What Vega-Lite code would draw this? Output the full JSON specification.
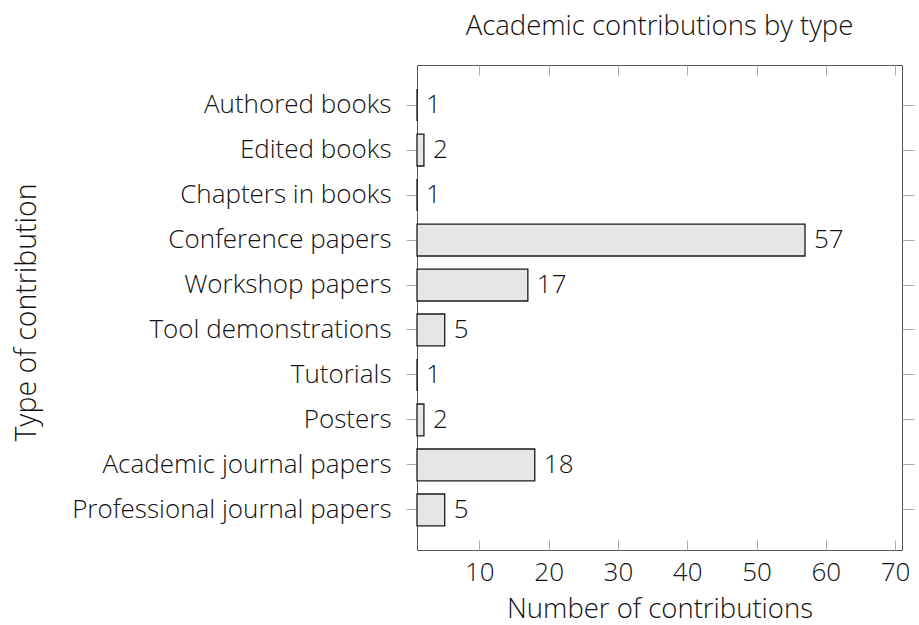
{
  "$schema": "https://vega.github.io/schema/vega-lite/v6.json",
  "width": 485,
  "height": 485,
  "autosize": {"type": "none"},
  "padding": {"left": 417, "top": 65, "right": 17, "bottom": 75},
  "background": "white",
  "title": {
    "text": "Academic contributions by type",
    "anchor": "middle",
    "frame": "group",
    "font": "Open Sans",
    "fontSize": 27.5,
    "fontWeight": 300,
    "color": "#111111",
    "baseline": "alphabetic",
    "offset": 2
  },
  "config": {
    "view": {"stroke": "#555555", "strokeWidth": 1},
    "axis": {
      "labelFont": "Open Sans",
      "titleFont": "Open Sans",
      "labelFontSize": 26,
      "titleFontSize": 27.5,
      "labelFontWeight": 300,
      "titleFontWeight": 300,
      "labelColor": "#111111",
      "titleColor": "#111111",
      "labelLimit": 400,
      "domain": false,
      "grid": false,
      "tickColor": "#aaaaaa",
      "tickWidth": 1
    }
  },
  "data": {
    "values": [
      {"type": "Authored books", "count": 1},
      {"type": "Edited books", "count": 2},
      {"type": "Chapters in books", "count": 1},
      {"type": "Conference papers", "count": 57},
      {"type": "Workshop papers", "count": 17},
      {"type": "Tool demonstrations", "count": 5},
      {"type": "Tutorials", "count": 1},
      {"type": "Posters", "count": 2},
      {"type": "Academic journal papers", "count": 18},
      {"type": "Professional journal papers", "count": 5}
    ]
  },
  "encoding": {
    "y": {
      "field": "type",
      "type": "nominal",
      "sort": null,
      "scale": {"paddingInner": 0.29, "paddingOuter": 0.535}
    },
    "x": {
      "field": "count",
      "type": "quantitative",
      "scale": {"domain": [1, 71], "zero": false, "nice": false}
    }
  },
  "layer": [
    {
      "mark": {"type": "bar", "fill": "#e6e6e6", "stroke": "#1a1a1a", "strokeWidth": 1.3},
      "encoding": {
        "x2": {"datum": 1},
        "y": {
          "field": "type",
          "type": "nominal",
          "sort": null,
          "axis": {
            "orient": "left",
            "title": "Type of contribution",
            "tickSize": 11,
            "labelPadding": 15,
            "titleFontSize": 28.5,
            "titleX": -382,
            "titleY": 247,
            "titleBaseline": "alphabetic",
            "titleAngle": 270
          }
        },
        "x": {
          "field": "count",
          "type": "quantitative",
          "axis": {
            "orient": "bottom",
            "title": "Number of contributions",
            "values": [10, 20, 30, 40, 50, 60, 70],
            "tickSize": -10,
            "labelPadding": 40,
            "labelBaseline": "alphabetic",
            "titleBaseline": "alphabetic",
            "titleY": 67
          }
        }
      }
    },
    {
      "mark": {"type": "text", "align": "left", "baseline": "middle", "dx": 9, "font": "Open Sans", "fontSize": 26, "fontWeight": 300, "color": "#111111"},
      "encoding": {
        "text": {"field": "count", "type": "quantitative"},
        "y": {
          "field": "type",
          "type": "nominal",
          "sort": null,
          "axis": {"orient": "right", "labels": false, "title": null, "tickSize": 12}
        },
        "x": {
          "field": "count",
          "type": "quantitative",
          "axis": {"orient": "top", "labels": false, "title": null, "values": [10, 20, 30, 40, 50, 60, 70], "tickSize": -10}
        }
      }
    }
  ],
  "resolve": {"axis": {"x": "independent", "y": "independent"}}
}
